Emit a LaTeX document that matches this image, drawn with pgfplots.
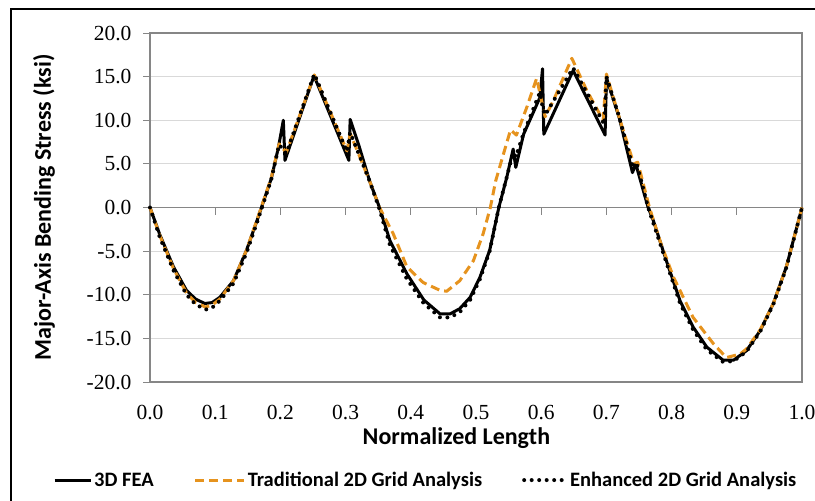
\documentclass[border=0pt]{standalone}
\usepackage{fontspec}
\setmainfont{Carlito}
\newfontfamily\tnr{Liberation Serif}
\usepackage{pgfplots}
\usepackage{pgfplotstable}
\pgfplotsset{compat=1.18}
\definecolor{orng}{RGB}{230,147,30}
\definecolor{axgray}{RGB}{134,134,134}
\definecolor{grd}{RGB}{217,217,217}
\pgfplotsset{
  legA/.style={legend image code/.code={\draw[##1] (-4pt,0pt) -- (32pt,0pt);}},
  legB/.style={legend image code/.code={\draw[##1] (0pt,0pt) -- (49pt,0pt);}},
  legC/.style={legend image code/.code={\draw[##1] (2pt,0pt) -- (44pt,0pt);}},
}

\pgfplotstableread{
x y
0.000 0.0
0.015 -3.1
0.036 -6.8
0.056 -9.5
0.070 -10.5
0.084 -11.0
0.095 -10.9
0.107 -10.3
0.128 -8.4
0.148 -4.9
0.166 -1.1
0.175 0.9
0.186 3.3
0.197 6.9
0.2045 10.0
0.207 5.4
0.2515 15.1
0.305 5.4
0.307 10.1
0.320 7.2
0.337 3.0
0.352 0.0
0.368 -3.8
0.394 -7.6
0.420 -10.6
0.445 -12.2
0.460 -12.2
0.475 -11.6
0.491 -10.3
0.506 -8.0
0.521 -4.9
0.535 0.0
0.547 3.4
0.557 6.7
0.561 4.6
0.573 8.4
0.598 12.6
0.602 15.9
0.604 8.4
0.649 15.7
0.698 8.3
0.700 14.9
0.720 10.2
0.740 4.0
0.745 5.0
0.764 0.0
0.772 -1.5
0.792 -6.1
0.813 -10.7
0.833 -13.7
0.854 -16.0
0.879 -17.5
0.895 -17.5
0.915 -16.4
0.936 -14.1
0.956 -11.0
0.976 -6.8
1.000 0.0
}\fea

\pgfplotstableread{
x y
0.000 0.0
0.015 -3.2
0.036 -7.0
0.056 -9.8
0.070 -10.9
0.085 -11.4
0.095 -11.2
0.107 -10.5
0.128 -8.4
0.148 -4.9
0.166 -1.0
0.186 3.4
0.198 7.3
0.209 6.3
0.252 15.2
0.302 6.5
0.307 8.5
0.337 3.0
0.352 0.0
0.373 -3.0
0.394 -6.8
0.419 -8.6
0.445 -9.5
0.455 -9.6
0.475 -8.4
0.496 -6.1
0.511 -3.0
0.522 0.0
0.530 3.0
0.542 6.1
0.553 8.9
0.562 8.3
0.578 11.5
0.593 14.8
0.606 10.4
0.619 12.3
0.647 17.1
0.670 13.4
0.695 10.0
0.700 15.3
0.721 10.0
0.742 5.0
0.748 5.2
0.766 0.0
0.783 -4.0
0.803 -8.0
0.833 -12.6
0.864 -15.6
0.884 -17.2
0.905 -16.8
0.915 -16.2
0.936 -14.0
0.956 -11.0
0.976 -6.8
1.000 0.0
}\trad

\pgfplotstableread{
x y
0.000 0.0
0.015 -3.4
0.036 -7.2
0.056 -10.0
0.070 -11.1
0.085 -11.7
0.095 -11.5
0.107 -10.7
0.128 -8.7
0.148 -5.2
0.166 -1.3
0.186 3.2
0.198 7.2
0.209 6.2
0.252 15.3
0.302 6.4
0.307 8.6
0.337 3.0
0.352 -0.2
0.368 -4.3
0.394 -8.2
0.420 -11.0
0.445 -12.6
0.460 -12.6
0.475 -12.0
0.491 -10.6
0.506 -8.2
0.521 -5.0
0.535 0.0
0.557 6.3
0.561 5.8
0.573 8.5
0.598 13.2
0.603 11.2
0.606 10.6
0.649 16.0
0.697 9.5
0.700 15.0
0.720 10.3
0.741 4.5
0.746 5.2
0.764 0.0
0.792 -6.3
0.813 -11.0
0.833 -14.0
0.854 -16.3
0.879 -17.7
0.895 -17.6
0.915 -16.5
0.936 -14.2
0.956 -11.1
0.976 -6.9
1.000 0.0
}\enh

\begin{document}
\begin{tikzpicture}
\path[use as bounding box] (0pt,0pt) rectangle (815pt,-501pt);
\draw[black, line width=2pt] (11pt,-502pt) -- (11pt,-9pt) -- (816pt,-9pt);
\begin{axis}[
  scale only axis, width=652pt, height=349pt,
  anchor=south west, at={(150pt,-382pt)},
  xmin=0, xmax=1, ymin=-20, ymax=20,
  xtick={0,0.1,0.2,0.3,0.4,0.5,0.6,0.7,0.8,0.9,1},
  ytick={-20,-15,-10,-5,0,5,10,15,20},
  xtick pos=bottom, ytick pos=left,
  tick align=outside, major tick length=7pt,
  major x tick style=transparent,
  tick style={axgray, line width=1pt},
  axis line style={axgray, line width=1.3pt},
  ymajorgrids, grid style={grd, line width=1pt},
  /pgf/number format/assume math mode=true,
  xticklabel style={/pgf/number format/.cd, fixed, fixed zerofill, precision=1, /tikz/.cd, yshift=-13pt},
  yticklabel style={/pgf/number format/.cd, fixed, fixed zerofill, precision=1, /tikz/.cd, xshift=-8pt},
  ticklabel style={font=\tnr\fontsize{21.5}{21.5}\selectfont},
  xlabel={Normalized Length},
  ylabel={Major-Axis Bending Stress (ksi)},
  label style={font=\bfseries\fontsize{24}{26}\selectfont},
  xlabel style={at={(axis description cs:0.47,-0.16)}, anchor=center},
  ylabel style={at={(axis description cs:-0.1626,0.5)}, anchor=center},
  legend columns=3,
  legend style={at={(axis description cs:0.423,-0.281)}, anchor=center, draw=none,
    font=\bfseries\fontsize{20.5}{22}\selectfont,
    /tikz/every even column/.append style={column sep=38pt}},
  clip=false,
]
\draw[axgray, line width=1.3pt] (axis cs:0,0) -- (axis cs:1,0);
\pgfplotsinvokeforeach{0.1,0.2,0.3,0.4,0.5,0.6,0.7,0.8,0.9}{
  \draw[axgray, line width=1pt] (axis cs:#1,0) -- ++(0pt,-7pt);
}
\addplot[legA, black, line width=3pt, line join=round]
  table[x=x,y=y] {\fea};
\addlegendentry{3D FEA}
\addplot[legB, orng, line width=3pt, line join=round, dash pattern=on 9pt off 5pt]
  table[x=x,y=y] {\trad};
\addlegendentry{Traditional  2D Grid Analysis}
\addplot[legC, black, line width=4pt, line cap=round, dash pattern=on 0pt off 7.5pt]
  table[x=x,y=y] {\enh};
\addlegendentry{Enhanced 2D Grid Analysis}
\end{axis}
\end{tikzpicture}
\end{document}
